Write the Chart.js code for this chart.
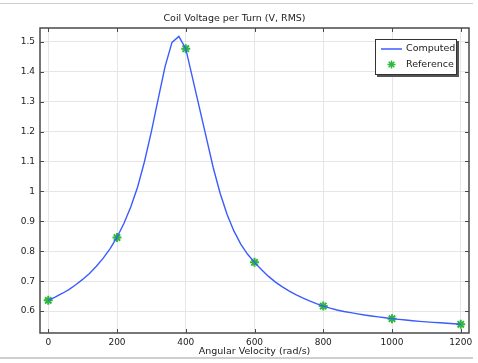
<!DOCTYPE html>
<html lang="en">
<head>
  <meta charset="UTF-8">
  <title>Coil Voltage per Turn</title>
  <script src="https://cdn.jsdelivr.net/npm/chart.js"></script>
  <style>
    html, body { margin: 0; padding: 0; background: #fff; }
    .wrap { position: relative; width: 478px; height: 363px; }
  </style>
</head>
<body>
  <div class="wrap"><canvas id="chart"></canvas></div>

  <script>
    // computed curve, sampled every 20 rad/s
    const computedX = [
      0, 20, 40, 60, 80, 100, 120, 140, 160, 180,
      200, 220, 240, 260, 280, 300, 320, 340, 360, 380,
      400, 420, 440, 460, 480, 500, 520, 540, 560, 580,
      600, 620, 640, 660, 680, 700, 720, 740, 760, 780,
      800, 820, 840, 860, 880, 900, 920, 940, 960, 980,
      1000, 1020, 1040, 1060, 1080, 1100, 1120, 1140, 1160, 1180, 1200
    ];
    const computedY = [
      0.636, 0.647, 0.659, 0.672, 0.688, 0.706, 0.726, 0.750, 0.777, 0.809,
      0.847, 0.893, 0.948, 1.015, 1.100, 1.200, 1.310, 1.418, 1.498, 1.518,
      1.477, 1.378, 1.278, 1.179, 1.079, 0.994, 0.924, 0.868, 0.824, 0.790,
      0.763, 0.739, 0.717, 0.698, 0.682, 0.668, 0.655, 0.644, 0.634, 0.625,
      0.617, 0.610, 0.604, 0.599, 0.595, 0.591, 0.587, 0.584, 0.581, 0.578,
      0.575, 0.5725, 0.5702, 0.568, 0.566, 0.5642, 0.5625, 0.561, 0.5595, 0.5578, 0.556
    ];

    // reference measurements
    const referenceX = [0, 200, 400, 600, 800, 1000, 1200];
    const referenceY = [0.636, 0.846, 1.477, 0.763, 0.617, 0.575, 0.556];

    const xTicks = [0, 200, 400, 600, 800, 1000, 1200];
    const yTicks = [0.6, 0.7, 0.8, 0.9, 1.0, 1.1, 1.2, 1.3, 1.4, 1.5];

    const FONT = '"DejaVu Sans", sans-serif';
    const lineColor = '#3a5cff';
    const starColor = '#2fb83e';

    const toPoints = (xs, ys) => xs.map((x, i) => ({ x, y: ys[i] }));

    // export frame lines, plot box, inward ticks
    const framePlugin = {
      id: 'frame',
      beforeDraw(chart) {
        const ctx = chart.ctx;
        ctx.save();
        ctx.fillStyle = '#cfcfcf';
        ctx.fillRect(0, 3, 473, 1);
        ctx.fillRect(0, 357, 473, 2);
        ctx.restore();
      },
      afterDatasetsDraw(chart) {
        const { ctx, chartArea: a, scales } = chart;
        ctx.save();
        ctx.strokeStyle = '#4a4a4a';
        ctx.lineWidth = 1;
        const tl = 4;
        ctx.beginPath();
        xTicks.forEach(v => {
          const px = Math.round(scales.x.getPixelForValue(v)) + 0.5;
          ctx.moveTo(px, a.top); ctx.lineTo(px, a.top + tl);
          ctx.moveTo(px, a.bottom); ctx.lineTo(px, a.bottom - tl);
        });
        yTicks.forEach(v => {
          const py = Math.round(scales.y.getPixelForValue(v)) + 0.5;
          ctx.moveTo(a.left, py); ctx.lineTo(a.left + tl, py);
          ctx.moveTo(a.right, py); ctx.lineTo(a.right - tl, py);
        });
        ctx.stroke();
        ctx.lineWidth = 1.5;
        ctx.strokeRect(a.left, a.top, a.right - a.left, a.bottom - a.top);
        ctx.restore();
      }
    };

    // legend box in the upper right of the plot
    const legendPlugin = {
      id: 'boxLegend',
      afterDraw(chart) {
        const ctx = chart.ctx;
        const bx = 375, by = 39, bw = 82, bh = 36;
        ctx.save();
        ctx.fillStyle = '#555';
        ctx.fillRect(bx + 2, by + 2, bw, bh);
        ctx.fillStyle = '#fff';
        ctx.fillRect(bx, by, bw, bh);
        ctx.strokeStyle = '#333';
        ctx.lineWidth = 1;
        ctx.strokeRect(bx + 0.5, by + 0.5, bw - 1, bh - 1);

        ctx.strokeStyle = lineColor;
        ctx.lineWidth = 1.5;
        ctx.beginPath();
        ctx.moveTo(381, 49); ctx.lineTo(402, 49);
        ctx.stroke();

        // asterisk marker
        ctx.strokeStyle = starColor;
        ctx.lineWidth = 1.5;
        const cx = 391.5, cy = 64.5, r = 4;
        ctx.beginPath();
        for (let k = 0; k < 4; k++) {
          const ang = k * Math.PI / 4;
          ctx.moveTo(cx - r * Math.cos(ang), cy - r * Math.sin(ang));
          ctx.lineTo(cx + r * Math.cos(ang), cy + r * Math.sin(ang));
        }
        ctx.stroke();

        ctx.fillStyle = '#222';
        ctx.font = '9.5px ' + FONT;
        ctx.textBaseline = 'middle';
        ctx.textAlign = 'left';
        ctx.fillText(chart.data.datasets[0].label, 406, 48.5);
        ctx.fillText(chart.data.datasets[1].label, 406, 64.5);
        ctx.restore();
      }
    };

    new Chart(document.getElementById('chart'), {
      type: 'line',
      data: {
        datasets: [
          {
            label: 'Computed',
            data: toPoints(computedX, computedY),
            borderColor: lineColor,
            borderWidth: 1.4,
            pointRadius: 0,
            tension: 0,
            fill: false
          },
          {
            label: 'Reference',
            data: toPoints(referenceX, referenceY),
            showLine: false,
            pointStyle: 'star',
            pointRadius: 4.5,
            borderColor: starColor,
            backgroundColor: starColor,
            pointBorderWidth: 2
          }
        ]
      },
      options: {
        responsive: true,
        maintainAspectRatio: false,
        animation: false,
        layout: { padding: { left: 0, right: 9, top: 0, bottom: 0 } },
        plugins: {
          legend: { display: false },
          tooltip: { enabled: false },
          title: {
            display: true,
            text: 'Coil Voltage per Turn (V, RMS)',
            color: '#222',
            font: { family: FONT, size: 9.5, weight: 'normal' },
            padding: { top: 13, bottom: 3.6 }
          }
        },
        scales: {
          x: {
            type: 'linear',
            min: -24,
            max: 1224,
            afterBuildTicks: s => { s.ticks = xTicks.map(v => ({ value: v })); },
            afterFit: s => { s.height = 30; },
            grid: { color: '#e6e6e6', drawTicks: false },
            border: { display: false },
            ticks: {
              color: '#222',
              padding: 4,
              maxRotation: 0,
              font: { family: FONT, size: 9 },
              callback: v => String(v)
            },
            title: {
              display: true,
              text: 'Angular Velocity (rad/s)',
              color: '#222',
              font: { family: FONT, size: 9.5 },
              padding: { top: 0, bottom: 6 }
            }
          },
          y: {
            min: 0.527,
            max: 1.546,
            afterBuildTicks: s => { s.ticks = yTicks.map(v => ({ value: v })); },
            afterFit: s => { s.width = 40; },
            grid: { color: '#e6e6e6', drawTicks: false },
            border: { display: false },
            ticks: {
              color: '#222',
              padding: 5,
              font: { family: FONT, size: 9 },
              callback: v => String(Math.round(v * 10) / 10)
            }
          }
        }
      },
      plugins: [framePlugin, legendPlugin]
    });
  </script>
</body>
</html>
